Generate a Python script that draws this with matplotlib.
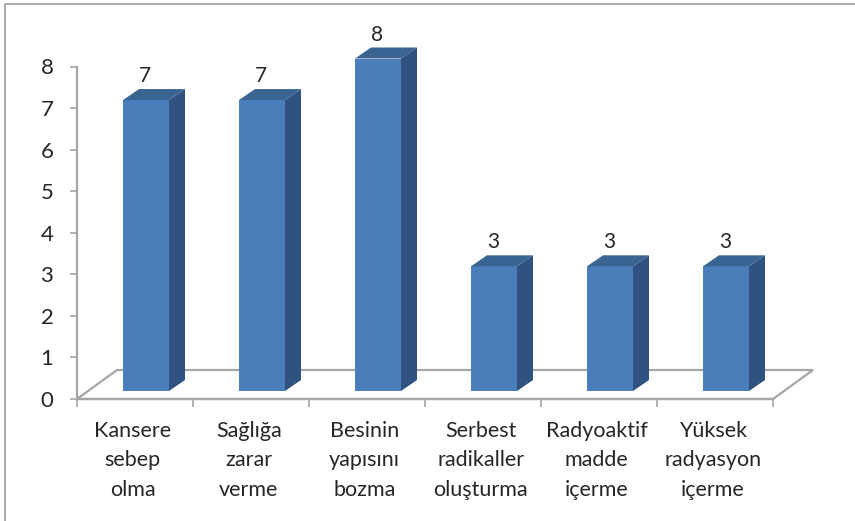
import matplotlib
matplotlib.use('Agg')
import matplotlib.pyplot as plt
from matplotlib.lines import Line2D
from matplotlib.patches import Polygon

categories = ['Kansere\nsebep\nolma', 'Sağlığa\nzarar\nverme', 'Besinin\nyapısını\nbozma',
              'Serbest\nradikaller\noluşturma', 'Radyoaktif\nmadde\niçerme', 'Yüksek\nradyasyon\niçerme']
values = [7, 7, 8, 3, 3, 3]
y_ticks = [0, 1, 2, 3, 4, 5, 6, 7, 8]

W, H = 855, 521
FRONT = '#4A7EBB'
SIDE = '#2F5280'
TOP = '#3A6593'
AXIS = '#A6A6A6'
TEXT = '#262626'

plt.rcParams['font.family'] = ['Lato', 'DejaVu Sans']

fig = plt.figure(figsize=(W / 100, H / 100), dpi=100)

# full figure layer for the frame: only top and left edges show in the crop
bg = fig.add_axes([0, 0, 1, 1])
bg.set_xlim(0, W)
bg.set_ylim(H, 0)
bg.axis('off')
bg.add_line(Line2D([5, 5, W], [H, 4, 4], color='#ABABAB', lw=1.4))

# plot area: x 77..773 px, y 66.5..399 px
ax = fig.add_axes([77 / W, 1 - 399 / H, 696 / W, 332.5 / H])
ax.set_xlim(0, len(categories))
ax.set_ylim(0, 8)
ax.patch.set_alpha(0)

ux = 696 / len(categories)   # px per category
uy = 332.5 / 8               # px per unit

# 3d offsets in data units
base = 8 / uy
bar_w = 46 / ux
dx = 16 / ux
dy = 11 / uy
bar_off = 46 / ux

# floor
floor_dx = 40 / ux
floor_dy = 29 / uy
n = len(categories)
ax.add_patch(Polygon([(0, 0), (floor_dx, floor_dy), (n + floor_dx, floor_dy), (n, 0)],
                     closed=True, fill=False, ec=AXIS, lw=1.6, clip_on=False, zorder=1))

for i, v in enumerate(values):
    left = i + bar_off
    right = left + bar_w
    top = base + v
    ax.bar(left, v, width=bar_w, bottom=base, align='edge', color=FRONT, zorder=3, clip_on=False)
    ax.add_patch(Polygon([(right, base), (right + dx, base + dy), (right + dx, top + dy), (right, top)],
                         closed=True, fc=SIDE, ec='none', clip_on=False, zorder=3))
    ax.add_patch(Polygon([(left, top), (left + dx, top + dy), (right + dx, top + dy), (right, top)],
                         closed=True, fc=TOP, ec='none', clip_on=False, zorder=3))
    ax.text(left + bar_w / 2 - 0.01, top + dy + 0.07, str(v), ha='center', va='bottom',
            fontsize=15, color=TEXT, clip_on=False)

for s in ['top', 'right']:
    ax.spines[s].set_visible(False)
for s in ['left', 'bottom']:
    ax.spines[s].set_color(AXIS)
    ax.spines[s].set_linewidth(1.6)

ax.set_yticks(y_ticks)
ax.tick_params(axis='y', length=5, width=1.2, color=AXIS, labelsize=16, labelcolor=TEXT, pad=12)
ax.set_xticks(range(n + 1))
ax.set_xticklabels([])
ax.tick_params(axis='x', length=6, width=1.2, color=AXIS, direction='out')

for i, c in enumerate(categories):
    ax.text(i + 0.5 - 0.02, -0.52, c, ha='center', va='top', fontsize=15.5, color=TEXT,
            linespacing=1.6, clip_on=False)

fig.savefig('out.png', dpi=100, facecolor='white')
